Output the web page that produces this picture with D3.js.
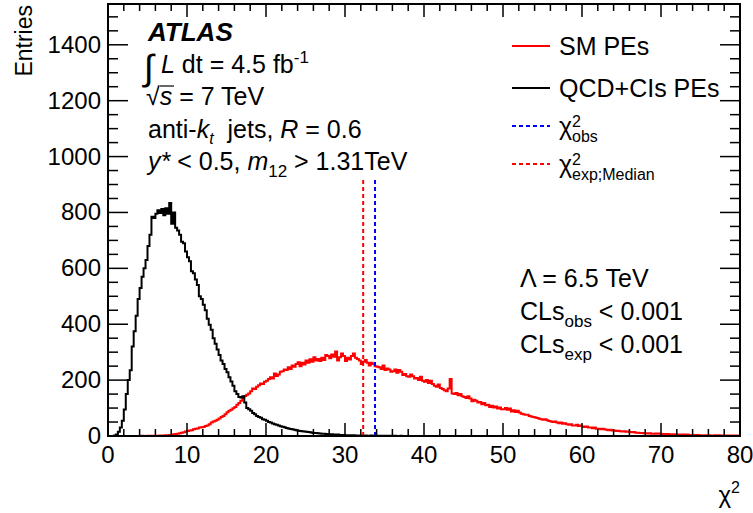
<!DOCTYPE html>
<html>
<head>
<meta charset="utf-8">
<script src="https://cdn.jsdelivr.net/npm/d3@7"></script>
<style>
  body { margin: 0; background: #fff; }
  text { font-family: "Liberation Sans", Arial, sans-serif; fill: #000; }
</style>
</head>
<body>
<svg id="chart" width="753" height="513"></svg>
<script>
// histogram binning: 0..80 in steps of 0.25
const binWidth = 0.25;

// QCD+CIs pseudo-experiments (black), bins from 0 to 40
const qcdCounts = [
  0, 0, 0, 2, 5, 15, 30, 55,
  95, 150, 200, 235, 320, 375, 430, 490,
  530, 570, 600, 630, 680, 720, 785, 780,
  795, 808, 798, 812, 790, 815, 795, 834,
  760, 800, 745, 735, 720, 695, 690, 660,
  640, 625, 590, 582, 560, 540, 500, 490,
  470, 450, 420, 398, 380, 350, 330, 310,
  290, 270, 258, 240, 228, 210, 195, 180,
  160, 150, 140, 138, 142, 120, 100, 96,
  90, 82, 78, 72, 68, 65, 60, 58,
  55, 50, 48, 45, 42, 40, 38, 35,
  33, 31, 29, 27, 25, 24, 22, 21,
  19, 18, 17, 16, 15, 14, 13, 12,
  11, 11, 10, 9, 8, 8, 7, 7,
  6, 6, 5, 5, 5, 4, 4, 4,
  3, 3, 3, 3, 3, 2, 2, 2,
  2, 2, 2, 1, 1, 2, 1, 1,
  1, 1, 1, 1, 1, 0, 1, 1,
  0, 1, 0, 0, 1, 0, 0, 0,
  0, 0, 0, 0, 0, 0, 0, 0
];

// SM pseudo-experiments (red), bins from 0 to 80
const smCounts = [
  0, 0, 0, 0, 0, 0, 0, 0, 0, 0, 0, 0,
  0, 0, 0, 0, 0, 1, 0, 0, 1, 0, 1, 0,
  1, 1, 2, 1, 2, 3, 2, 4,
  4, 6, 7, 8, 10, 12, 13, 16,
  18, 20, 21, 24, 26, 27, 30, 31,
  32, 36, 38, 42, 48, 52, 55, 58,
  63, 68, 72, 78, 85, 90, 94, 99,
  104, 112, 118, 126, 138, 143, 148, 152,
  160, 170, 168, 176, 182, 188, 186, 194,
  198, 204, 210, 206, 224, 215, 220, 230,
  232, 238, 236, 246, 240, 252, 248, 258,
  264, 250, 262, 256, 270, 262, 275, 266,
  282, 270, 276, 268, 280, 272, 290, 286,
  278, 292, 284, 302, 270, 282, 295, 286,
  268, 280, 274, 286, 295, 280, 276, 270,
  258, 266, 272, 262, 252, 262, 258, 250,
  248, 246, 240, 252, 236, 242, 238, 230,
  232, 238, 226, 236, 230, 218, 222, 214,
  212, 220, 214, 206, 208, 200, 212, 198,
  194, 200, 190, 198, 186, 180, 176, 184,
  172, 168, 164, 160, 170, 204, 152, 150,
  154, 146, 150, 142, 140, 136, 142, 134,
  124, 130, 126, 120, 122, 114, 118, 110,
  112, 104, 108, 102, 106, 98, 102, 96,
  96, 100, 94, 98, 88, 92, 86, 90,
  84, 80, 78, 76, 76, 72, 70, 68,
  66, 64, 62, 60, 58, 60, 56, 54,
  52, 50, 52, 48, 46, 48, 44, 46,
  42, 40, 42, 38, 38, 40, 36, 38,
  34, 32, 34, 30, 30, 28, 30, 26,
  26, 24, 26, 24, 22, 21, 22, 20,
  20, 18, 19, 17, 16, 17, 15, 16,
  14, 13, 14, 12, 12, 11, 11, 10,
  10, 9, 10, 8, 8, 9, 8, 9,
  7, 7, 6, 7, 6, 5, 6, 5,
  5, 5, 4, 5, 4, 5, 4, 4,
  4, 3, 4, 3, 3, 3, 3, 2,
  3, 2, 2, 3, 2, 3, 2, 2,
  2, 2, 1, 2, 1, 2, 2, 1
];

// observed and expected (median) chi2, and height of their markers
const chi2Obs = 33.8;
const chi2ExpMedian = 32.3;
const markerHeight = 920;

const xTicks = [0, 10, 20, 30, 40, 50, 60, 70, 80];
const yTicks = [0, 200, 400, 600, 800, 1000, 1200, 1400];

const svg = d3.select('#chart');
const frameL = 108, frameR = 740, frameT = 4, frameB = 436;

const x = d3.scaleLinear().domain([0, 80]).range([frameL, frameR]);
const y = d3.scaleLinear().domain([0, 1546]).range([frameB, frameT]);

// ---- histograms
const stepLine = d3.line()
  .x(d => x(d[0]))
  .y(d => y(d[1]))
  .curve(d3.curveStepAfter);

function histPoints(counts) {
  const pts = counts.map((c, i) => [i * binWidth, c]);
  pts.push([counts.length * binWidth, counts[counts.length - 1]]);
  return pts;
}

const plot = svg.append('g');
plot.append('path')
  .attr('d', stepLine(histPoints(smCounts)))
  .attr('fill', 'none')
  .attr('stroke', '#ff0000')
  .attr('stroke-width', 2);

plot.append('path')
  .attr('d', stepLine(histPoints(qcdCounts)))
  .attr('fill', 'none')
  .attr('stroke', '#000')
  .attr('stroke-width', 2);

// ---- chi2 markers
[[chi2ExpMedian, '#ff0000'], [chi2Obs, '#0000ff']].forEach(([v, c]) => {
  plot.append('line')
    .attr('x1', x(v)).attr('x2', x(v))
    .attr('y1', y(0)).attr('y2', y(markerHeight))
    .attr('stroke', c)
    .attr('stroke-width', 2)
    .attr('stroke-dasharray', '4,3');
});

// ---- frame and ticks (ROOT style, ticks pointing inward on all sides)
const axes = svg.append('g').attr('stroke', '#000');
axes.append('rect')
  .attr('x', frameL).attr('y', frameT)
  .attr('width', frameR - frameL).attr('height', frameB - frameT)
  .attr('fill', 'none')
  .attr('stroke-width', 2);

d3.range(0, 80.01, 2).forEach(v => {
  const len = v % 10 === 0 ? 13 : 7;
  axes.append('line')
    .attr('x1', x(v)).attr('x2', x(v))
    .attr('y1', frameB).attr('y2', frameB - len)
    .attr('stroke-width', 1.5);
  axes.append('line')
    .attr('x1', x(v)).attr('x2', x(v))
    .attr('y1', frameT).attr('y2', frameT + len)
    .attr('stroke-width', 1.5);
});

d3.range(0, 1546, 50).forEach(v => {
  const len = v % 200 === 0 ? 20 : 10;
  axes.append('line')
    .attr('x1', frameL).attr('x2', frameL + len)
    .attr('y1', y(v)).attr('y2', y(v))
    .attr('stroke-width', 1.5);
  axes.append('line')
    .attr('x1', frameR).attr('x2', frameR - len)
    .attr('y1', y(v)).attr('y2', y(v))
    .attr('stroke-width', 1.5);
});

const labels = svg.append('g').style('font-size', '24px');
xTicks.forEach(v => {
  labels.append('text')
    .attr('x', x(v)).attr('y', 463)
    .attr('text-anchor', 'middle')
    .text(v);
});
yTicks.forEach(v => {
  labels.append('text')
    .attr('x', 101).attr('y', y(v) + 8)
    .attr('text-anchor', 'end')
    .text(v);
});

// axis titles
svg.append('text')
  .attr('transform', 'translate(32,5) rotate(-90)')
  .attr('text-anchor', 'end')
  .style('font-size', '23px')
  .text('Entries');

const xt = svg.append('text')
  .attr('x', 740).attr('y', 503)
  .attr('text-anchor', 'end')
  .style('font-size', '24px');
xt.append('tspan').text('χ');
xt.append('tspan').attr('dy', -10).style('font-size', '16px').text('2');

// ---- ATLAS label block
const info = svg.append('g').style('font-size', '25px');
info.append('text')
  .attr('x', 148).attr('y', 41)
  .style('font-size', '26px')
  .style('font-weight', 'bold').style('font-style', 'italic')
  .text('ATLAS');

info.append('text')
  .attr('x', 144).attr('y', 80)
  .style('font-size', '36px')
  .text('∫');
const lumi = info.append('text').attr('x', 161).attr('y', 73);
lumi.append('tspan').style('font-style', 'italic').text('L');
lumi.append('tspan').text(' dt = 4.5 fb');
lumi.append('tspan').attr('dy', -10).style('font-size', '17px').text('-1');

const sqrts = info.append('text').attr('x', 146).attr('y', 105);
sqrts.append('tspan').text('√');
sqrts.append('tspan').style('font-style', 'italic').text('s');
sqrts.append('tspan').text(' = 7 TeV');
info.append('line')
  .attr('x1', 160).attr('x2', 174)
  .attr('y1', 86).attr('y2', 86)
  .attr('stroke', '#000').attr('stroke-width', 1.2);

const akt = info.append('text').attr('x', 148).attr('y', 138);
akt.append('tspan').text('anti-');
akt.append('tspan').style('font-style', 'italic').text('k');
akt.append('tspan').attr('dy', 6).style('font-size', '16px').style('font-style', 'italic').text('t');
akt.append('tspan').attr('dy', -6).text('\u00a0 jets, ');
akt.append('tspan').style('font-style', 'italic').text('R');
akt.append('tspan').text(' = 0.6');

const cut = info.append('text').attr('x', 148).attr('y', 170);
cut.append('tspan').style('font-style', 'italic').text('y*');
cut.append('tspan').text(' < 0.5, ');
cut.append('tspan').style('font-style', 'italic').text('m');
cut.append('tspan').attr('dy', 7).style('font-size', '17px').text('12');
cut.append('tspan').attr('dy', -7).text(' > 1.31TeV');

// ---- legend
const legend = svg.append('g').style('font-size', '25px');
const legendRows = [
  { y: 46, color: '#ff0000', dash: null, label: 'SM PEs' },
  { y: 88, color: '#000', dash: null, label: 'QCD+CIs PEs' },
  { y: 126, color: '#0000ff', dash: '4,3', sup: '2', sub: 'obs' },
  { y: 164, color: '#ff0000', dash: '4,3', sup: '2', sub: 'exp;Median' }
];
legendRows.forEach(r => {
  legend.append('line')
    .attr('x1', 512).attr('x2', 550)
    .attr('y1', r.y).attr('y2', r.y)
    .attr('stroke', r.color)
    .attr('stroke-width', 2)
    .attr('stroke-dasharray', r.dash);
  const t = legend.append('text').attr('x', 559).attr('y', r.y + 9);
  if (r.label) {
    t.text(r.label);
  } else {
    t.append('tspan').text('χ');
    t.append('tspan').attr('x', 572).attr('dy', -8).style('font-size', '16px').text(r.sup);
    t.append('tspan').attr('x', 572).attr('dy', 15).style('font-size', '16px').text(r.sub);
  }
});

// ---- CLs results
const res = svg.append('g').style('font-size', '25px');
res.append('text').attr('x', 520).attr('y', 287).text('Λ = 6.5 TeV');
[['obs', 320], ['exp', 353]].forEach(([s, yy]) => {
  const t = res.append('text').attr('x', 520).attr('y', yy);
  t.append('tspan').text('CLs');
  t.append('tspan').attr('dy', 7).style('font-size', '17px').text(s);
  t.append('tspan').attr('dy', -7).text(' < 0.001');
});
</script>
</body>
</html>
